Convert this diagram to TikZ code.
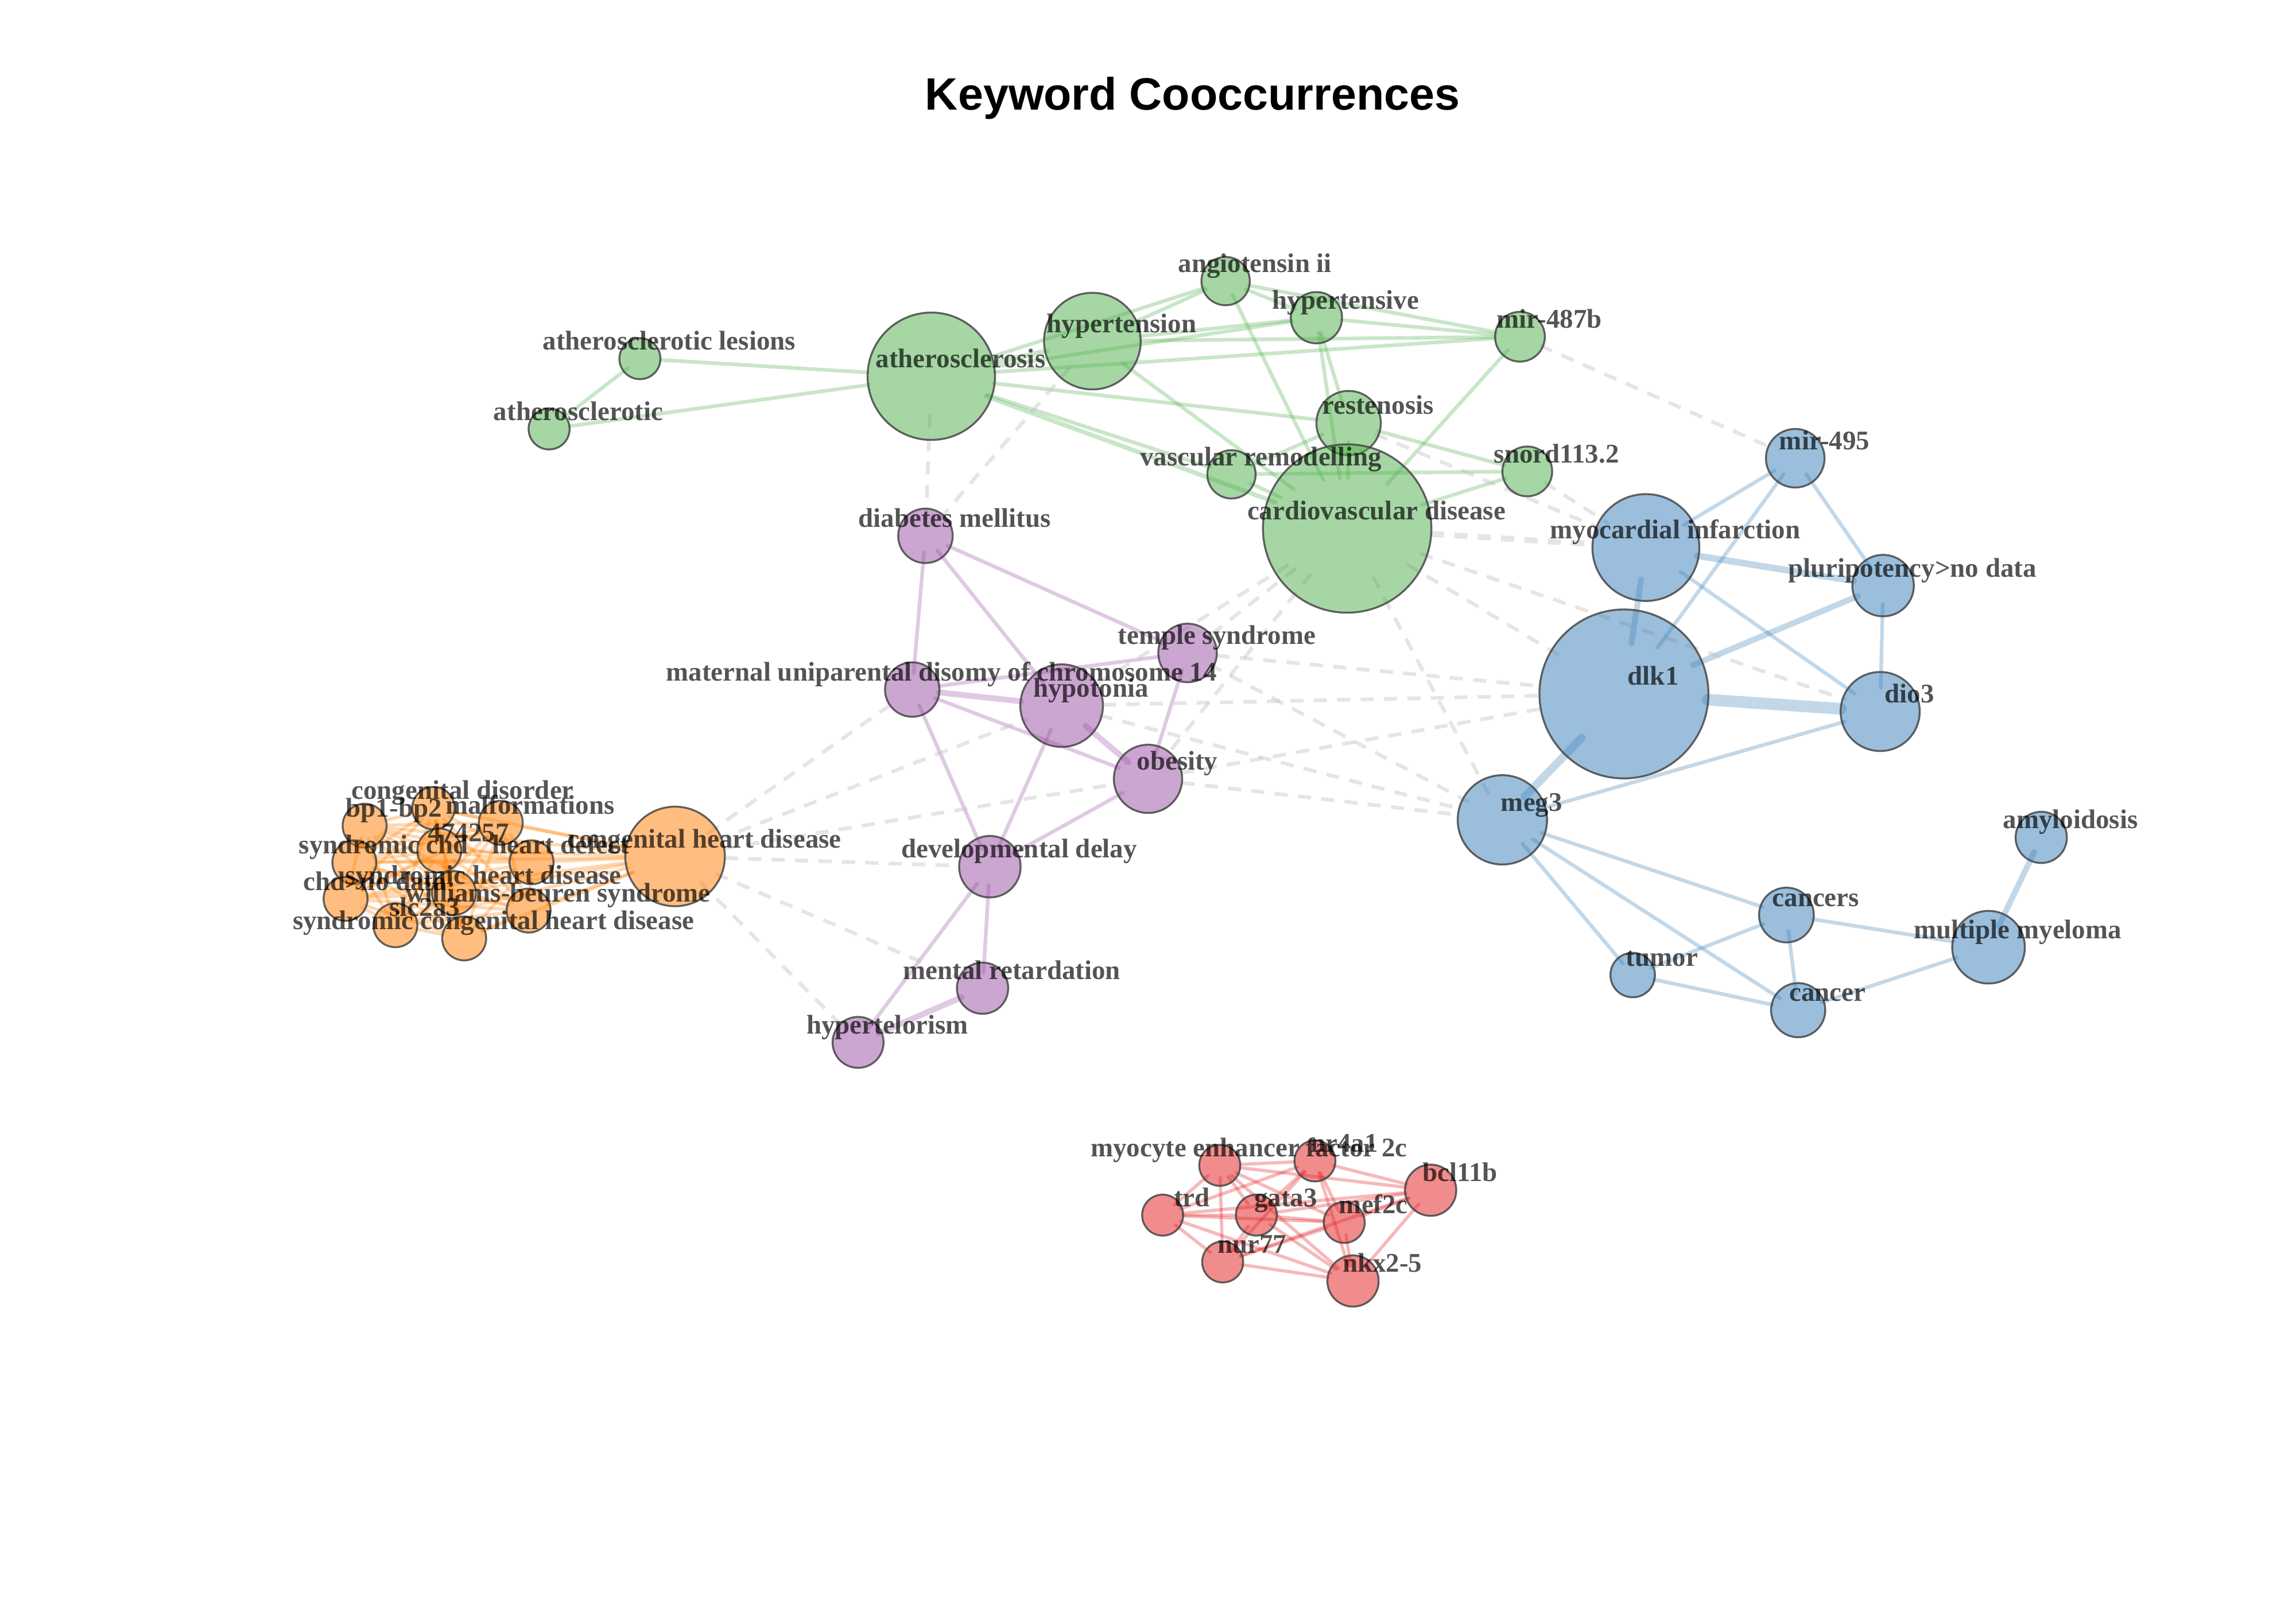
\documentclass[tikz,border=0pt]{standalone}
\usepackage{fontspec}
\setmainfont{Liberation Serif}
\newfontfamily\ttlfamily{Liberation Sans}
\usetikzlibrary{shapes.geometric}
\definecolor{sgreen}{RGB}{77,175,74}
\definecolor{sblue}{RGB}{55,126,184}
\definecolor{spurple}{RGB}{152,78,163}
\definecolor{sorange}{RGB}{255,127,0}
\definecolor{sred}{RGB}{228,26,28}
\pgfdeclarelayer{bg}
\pgfdeclarelayer{edges}
\pgfsetlayers{bg,edges,main}
% keyword node: visible circle plus an invisible ellipse that clips its edges
\newcommand{\kwnode}[5]{%
  \node[kw=#4,fill=#5] (#1) at (#2,#3) {};
  \node[clipell=#4] (#1-e) at (#2,#3) {};
}
\begin{document}
\begin{tikzpicture}[x=1pt,y=-1pt,
  kw/.style={circle,inner sep=0pt,minimum size=2*#1,draw=black!72,draw opacity=0.85,line width=1.3pt,fill opacity=0.5},
  clipell/.style={shape=ellipse,inner sep=0pt,outer sep=0pt,minimum width=2*#1,minimum height=1.2*#1},
  lbl/.style={font=\bfseries\fontsize{18.4}{20}\selectfont,text=black,text opacity=0.67,anchor=base,inner sep=0pt,xshift=20pt,yshift=6pt},
  edgebase/.style={line width=2.5pt,line cap=round,draw opacity=0.3},
  ge/.style={edgebase,draw=sgreen},
  be/.style={edgebase,draw=sblue},
  pe/.style={edgebase,draw=spurple},
  re/.style={edgebase,draw=sred,line width=2.2pt},
  oe/.style={edgebase,draw=sorange,line width=2.2pt},
  de/.style={draw=black!25,draw opacity=0.4,line width=2.5pt,dash pattern=on 9pt off 7pt}
]
\begin{pgfonlayer}{bg}
\fill[white] (0,0) rectangle (1568,1098);
\end{pgfonlayer}
\useasboundingbox (0,0) rectangle (1568,1098);

\node[font=\ttlfamily\bfseries\fontsize{31}{36}\selectfont,anchor=base,inner sep=0pt] (title) at (814.5,75) {Keyword Cooccurrences};

% green cluster
\kwnode{ael}{437}{245}{14}{sgreen}
\kwnode{atc}{375}{293}{14}{sgreen}
\kwnode{ath}{636}{257}{43.5}{sgreen}
\kwnode{hyp}{746}{233}{33}{sgreen}
\kwnode{ang}{837}{192}{16.5}{sgreen}
\kwnode{hts}{899}{217}{17.5}{sgreen}
\kwnode{mirb}{1038}{230}{17}{sgreen}
\kwnode{res}{921}{289}{22}{sgreen}
\kwnode{vas}{841}{324}{16.5}{sgreen}
\kwnode{sno}{1043}{322}{17}{sgreen}
\kwnode{cvd}{920}{361}{57.5}{sgreen}
% blue cluster
\kwnode{mirf}{1226}{313}{20}{sblue}
\kwnode{mi}{1124}{374}{36.5}{sblue}
\kwnode{plu}{1286}{400}{21}{sblue}
\kwnode{dlk}{1109}{474}{57.7}{sblue}
\kwnode{dio}{1284}{486}{27}{sblue}
\kwnode{meg}{1026}{560}{30.5}{sblue}
\kwnode{amy}{1394}{572}{17.5}{sblue}
\kwnode{cas}{1220}{625}{18.7}{sblue}
\kwnode{mm}{1358}{647}{24.8}{sblue}
\kwnode{tum}{1115}{666}{15.2}{sblue}
\kwnode{can}{1228}{690}{18.5}{sblue}
% purple cluster
\kwnode{dm}{632}{366}{18.6}{spurple}
\kwnode{mud}{623}{471}{18.6}{spurple}
\kwnode{tem}{811}{446}{20}{spurple}
\kwnode{hyo}{725}{482}{28.2}{spurple}
\kwnode{obe}{784}{532}{23.3}{spurple}
\kwnode{dd}{676}{592}{21}{spurple}
\kwnode{mr}{671}{675}{17.5}{spurple}
\kwnode{hte}{586}{712}{17.4}{spurple}
% orange cluster
\kwnode{chd}{461}{585}{34}{sorange}
\kwnode{cd}{296}{552}{14.5}{sorange}
\kwnode{bp}{249}{564}{15}{sorange}
\kwnode{mal}{342}{562}{15}{sorange}
\kwnode{nfs}{300}{581}{15}{sorange}
\kwnode{sc}{242}{589}{15}{sorange}
\kwnode{hd}{363}{589}{15}{sorange}
\kwnode{cnd}{236}{614}{15}{sorange}
\kwnode{shd}{310}{610}{15}{sorange}
\kwnode{wbs}{361}{622}{15}{sorange}
\kwnode{slc}{270}{632}{15}{sorange}
\kwnode{schd}{317}{641}{15}{sorange}
% red cluster
\kwnode{mef}{833}{796}{14}{sred}
\kwnode{nr}{898}{793}{14}{sred}
\kwnode{bcl}{977}{813}{17.5}{sred}
\kwnode{trd}{794}{830}{14}{sred}
\kwnode{gat}{858}{830}{14}{sred}
\kwnode{mtc}{918}{835}{14}{sred}
\kwnode{nur}{835}{862}{14}{sred}
\kwnode{nkx}{924}{875}{17.5}{sred}

\begin{pgfonlayer}{edges}
% green edges
\foreach \a/\b in {ael/ath,ael/atc,atc/ath,ath/ang,ath/hts,ath/mirb,ath/res,ath/vas,
  hyp/ang,hyp/hts,hyp/mirb,hyp/cvd,ang/hts,ang/mirb,ang/cvd,hts/mirb,hts/res,hts/cvd,
  mirb/cvd,res/vas,res/sno,res/cvd,vas/sno,vas/cvd,sno/cvd}
  \draw[ge] (\a-e) -- (\b-e);
\draw[ge,line width=3.5pt] (ath-e) -- (hyp-e);
\draw[ge,line width=3pt] (ath-e) -- (cvd-e);
% blue edges
\foreach \a/\b in {mirf/mi,mirf/dlk,mirf/plu,mi/dio,plu/dio,meg/dio,meg/cas,meg/can,meg/tum,
  tum/cas,tum/can,cas/can,cas/mm,can/mm}
  \draw[be] (\a-e) -- (\b-e);
\draw[be,line width=4.5pt] (mi-e) -- (plu-e);
\draw[be,line width=4pt] (mi-e) -- (dlk-e);
\draw[be,line width=4pt] (plu-e) -- (dlk-e);
\draw[be,line width=8pt] (dlk-e) -- (dio-e);
\draw[be,line width=5.5pt] (dlk-e) -- (meg-e);
\draw[be,line width=4pt] (mm-e) -- (amy-e);
% purple edges
\foreach \a/\b in {dm/mud,dm/hyo,dm/tem,mud/tem,mud/obe,mud/dd,hyo/dd,tem/obe,obe/dd,dd/mr,dd/hte}
  \draw[pe] (\a-e) -- (\b-e);
\draw[pe,line width=4pt] (mud-e) -- (hyo-e);
\draw[pe,line width=4pt] (hyo-e) -- (obe-e);
\draw[pe,line width=4pt] (mr-e) -- (hte-e);
% dashed inter-cluster edges
\foreach \a/\b in {ath/dm,hyp/dm,mirb/mirf,cvd/dlk,cvd/dio,cvd/meg,cvd/tem,cvd/hyo,cvd/obe,
  res/mi,sno/mi,tem/dlk,hyo/dlk,obe/dlk,hyo/meg,obe/meg,tem/meg,
  chd/mud,chd/hyo,chd/obe,chd/dd,chd/mr,chd/hte}
  \draw[de] (\a-e) -- (\b-e);
\draw[de,line width=4pt] (cvd-e) -- (mi-e);
% red cluster: all pairs
\foreach [count=\i] \a in {mef,nr,bcl,trd,gat,mtc,nur,nkx}{
  \foreach [count=\j] \b in {mef,nr,bcl,trd,gat,mtc,nur,nkx}{
    \ifnum\j>\i \draw[re] (\a-e) -- (\b-e); \fi
  }
}
% orange cluster: all pairs
\foreach [count=\i] \a in {chd,cd,bp,mal,nfs,sc,hd,cnd,shd,wbs,slc,schd}{
  \foreach [count=\j] \b in {chd,cd,bp,mal,nfs,sc,hd,cnd,shd,wbs,slc,schd}{
    \ifnum\j>\i \draw[oe] (\a-e) -- (\b-e); \fi
  }
}
\end{pgfonlayer}

% labels
\node[lbl] (l-ael) at (ael.center) {atherosclerotic lesions};
\node[lbl] (l-atc) at (atc.center) {atherosclerotic};
\node[lbl] (l-ath) at (ath.center) {atherosclerosis};
\node[lbl] (l-hyp) at (hyp.center) {hypertension};
\node[lbl] (l-ang) at (ang.center) {angiotensin ii};
\node[lbl] (l-hts) at (hts.center) {hypertensive};
\node[lbl] (l-mirb) at (mirb.center) {mir-487b};
\node[lbl] (l-res) at (res.center) {restenosis};
\node[lbl] (l-vas) at (vas.center) {vascular remodelling};
\node[lbl] (l-sno) at (sno.center) {snord113.2};
\node[lbl] (l-cvd) at (cvd.center) {cardiovascular disease};
\node[lbl] (l-mirf) at (mirf.center) {mir-495};
\node[lbl] (l-mi) at (mi.center) {myocardial infarction};
\node[lbl] (l-plu) at (plu.center) {pluripotency>no data};
\node[lbl] (l-dlk) at (dlk.center) {dlk1};
\node[lbl] (l-dio) at (dio.center) {dio3};
\node[lbl] (l-meg) at (meg.center) {meg3};
\node[lbl] (l-amy) at (amy.center) {amyloidosis};
\node[lbl] (l-cas) at (cas.center) {cancers};
\node[lbl] (l-mm) at (mm.center) {multiple myeloma};
\node[lbl] (l-tum) at (tum.center) {tumor};
\node[lbl] (l-can) at (can.center) {cancer};
\node[lbl] (l-dm) at (dm.center) {diabetes mellitus};
\node[lbl] (l-mud) at (mud.center) {maternal uniparental disomy of chromosome 14};
\node[lbl] (l-tem) at (tem.center) {temple syndrome};
\node[lbl] (l-hyo) at (hyo.center) {hypotonia};
\node[lbl] (l-obe) at (obe.center) {obesity};
\node[lbl] (l-dd) at (dd.center) {developmental delay};
\node[lbl] (l-mr) at (mr.center) {mental retardation};
\node[lbl] (l-hte) at (hte.center) {hypertelorism};
\node[lbl] (l-chd) at (chd.center) {congenital heart disease};
\node[lbl] (l-cd) at (cd.center) {congenital disorder};
\node[lbl] (l-bp) at (bp.center) {bp1-bp2};
\node[lbl] (l-mal) at (mal.center) {malformations};
\node[lbl] (l-nfs) at (nfs.center) {474257};
\node[lbl] (l-sc) at (sc.center) {syndromic chd};
\node[lbl] (l-hd) at (hd.center) {heart defect};
\node[lbl] (l-cnd) at (cnd.center) {chd>no data};
\node[lbl] (l-shd) at (shd.center) {syndromic heart disease};
\node[lbl] (l-wbs) at (wbs.center) {williams-beuren syndrome};
\node[lbl] (l-slc) at (slc.center) {slc2a3};
\node[lbl] (l-schd) at (schd.center) {syndromic congenital heart disease};
\node[lbl] (l-mef) at (mef.center) {myocyte enhancer factor 2c};
\node[lbl] (l-nr) at (nr.center) {nr4a1};
\node[lbl] (l-bcl) at (bcl.center) {bcl11b};
\node[lbl] (l-trd) at (trd.center) {trd};
\node[lbl] (l-gat) at (gat.center) {gata3};
\node[lbl] (l-mtc) at (mtc.center) {mef2c};
\node[lbl] (l-nur) at (nur.center) {nur77};
\node[lbl] (l-nkx) at (nkx.center) {nkx2-5};
\end{tikzpicture}
\end{document}
